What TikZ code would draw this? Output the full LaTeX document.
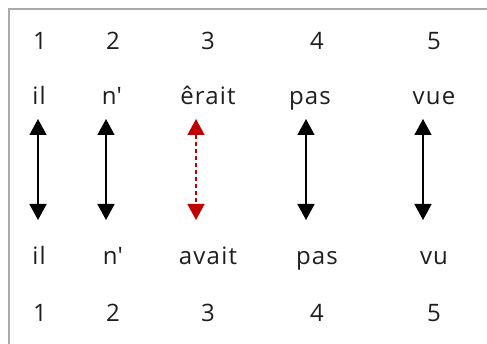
\documentclass[tikz,border=0pt]{standalone}
\usepackage{fontspec}
\setmainfont{Open Sans}[LetterSpace=5]
\usetikzlibrary{arrows.meta}
\definecolor{frame}{RGB}{170,170,170}
\definecolor{dred}{RGB}{192,0,0}
\definecolor{txt}{RGB}{30,30,30}
\tikzset{
  lbl/.style={font=\fontsize{24}{26}\selectfont, text=txt, inner sep=0pt, anchor=base},
  link/.style={line width=1.5pt, {Triangle[width=17pt,length=16pt]}-{Triangle[width=17pt,length=16pt]}},
  redlink/.style={link, draw=dred, dash pattern=on 4.5pt off 2.5pt}
}
\begin{document}
\begin{tikzpicture}[x=1pt,y=-1pt]
\useasboundingbox (0,0) rectangle (487,344);
\draw[frame, line width=1.2pt] (9,344) -- (9,9) -- (487,9);
\foreach \n/\x in {1/40,2/113,3/208,4/317,5/434}{
  \node[lbl] (tn\n) at (\x,50) {\n};
  \node[lbl] (bn\n) at (\x,322) {\n};
}
\node[lbl] (tw1) at (39,105) {il};
\node[lbl] (tw2) at (112,105) {n\textquotesingle};
\node[lbl] (tw3) at (208,105) {êrait};
\node[lbl] (tw4) at (310,105) {pas};
\node[lbl] (tw5) at (434,105) {vue};
\node[lbl] (bw1) at (39,265) {il};
\node[lbl] (bw2) at (113,265) {n\textquotesingle};
\node[lbl] (bw3) at (208,265) {avait};
\node[lbl] (bw4) at (317,265) {pas};
\node[lbl] (bw5) at (434,265) {vu};
\foreach \i/\x in {1/38,2/106,3/196,4/306,5/423}{
  \coordinate (ta\i) at (\x,119);
  \coordinate (ba\i) at (\x,220);
}
\draw[link] (ta1) -- (ba1);
\draw[link] (ta2) -- (ba2);
\draw[redlink] (ta3) -- (ba3);
\draw[link] (ta4) -- (ba4);
\draw[link] (ta5) -- (ba5);
\end{tikzpicture}
\end{document}
